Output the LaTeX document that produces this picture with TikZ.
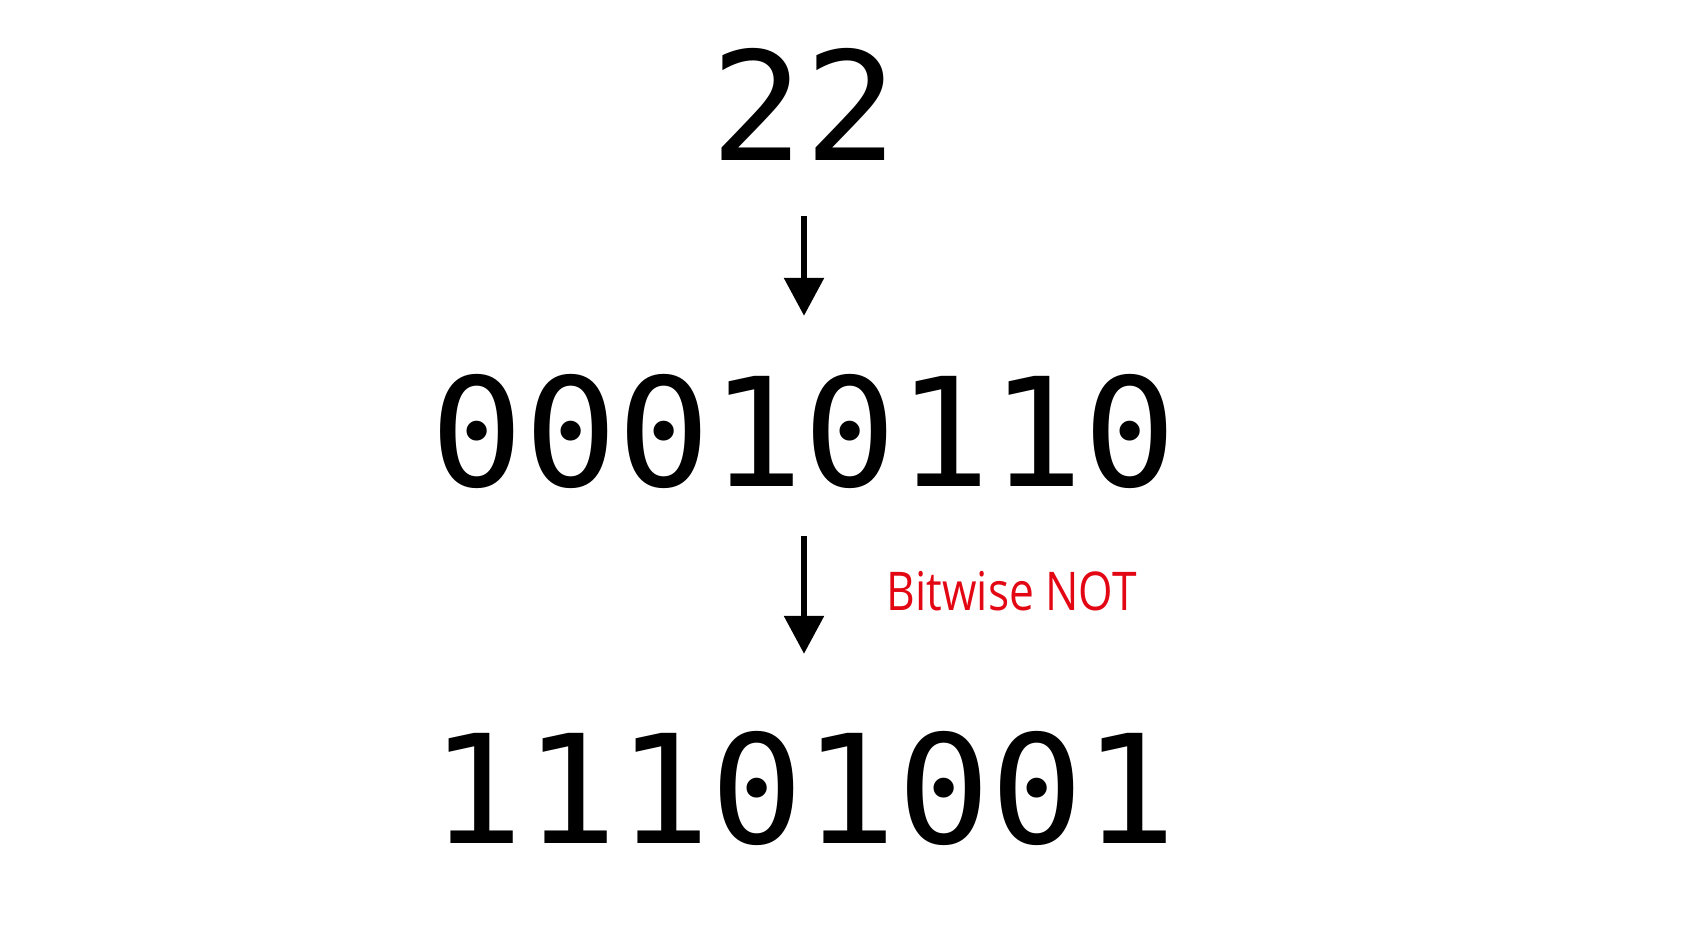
\documentclass[tikz,border=0pt]{standalone}
\usepackage{fontspec}
\setmonofont[FakeStretch=1.025]{DejaVu Sans Mono}
\newfontfamily\labelfont[FakeStretch=0.83]{Open Sans}
\usetikzlibrary{arrows.meta}
\definecolor{notred}{RGB}{227,6,19}
\begin{document}
\begin{tikzpicture}[line join=round,
 num/.style={inner sep=0pt, outer sep=0pt, anchor=base, font=\ttfamily\fontsize{43}{50}\selectfont},
 arr/.style={line width=1.9pt, -{Triangle[width=11pt,length=10.8pt]}}]
 \useasboundingbox (0,0) rectangle (16.92,9.40);
 \node[num] (dec) at (8.04,7.80) {22};
 \node[num] (bin) at (8.04,4.54) {00010110};
 \node[num] (inv) at (8.04,0.97) {11101001};
 \node[inner sep=0pt, anchor=base west, text=notred, font=\labelfont\fontsize{15.2}{18}\selectfont]
  (op) at (8.86,3.30) {Bitwise NOT};
 \draw[arr, shorten <=0.56cm, shorten >=0.58cm] (dec.south) -- (bin.north);
 \draw[arr, shorten <=0.48cm, shorten >=0.77cm] (bin.south) -- (inv.north);
\end{tikzpicture}
\end{document}
